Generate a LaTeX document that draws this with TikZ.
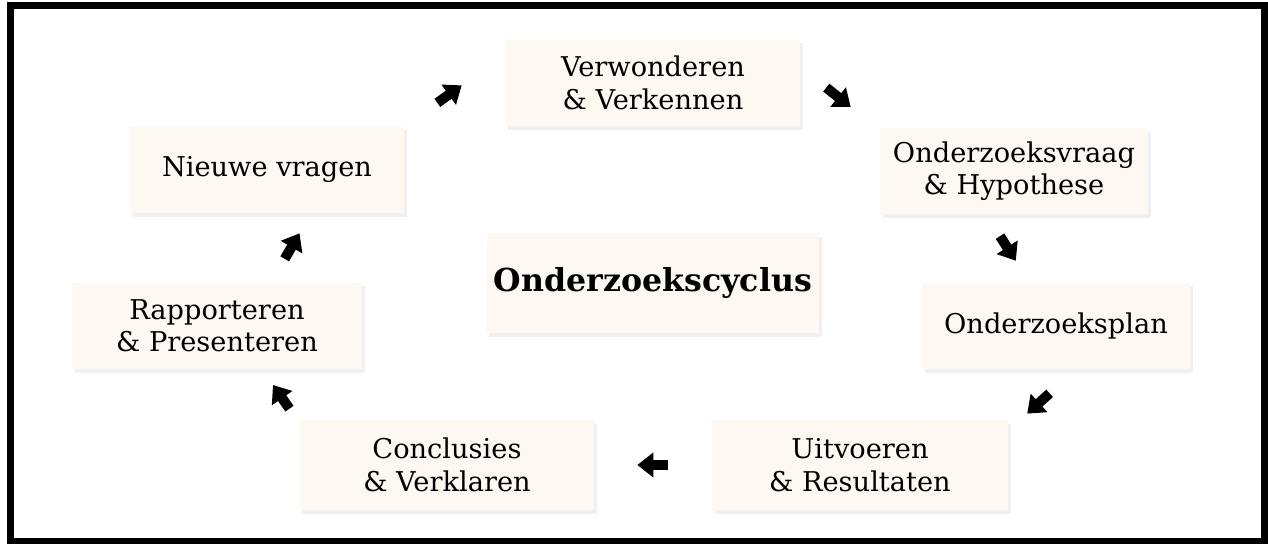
\documentclass[tikz,border=0pt]{standalone}
\usepackage{fontspec}
\setmainfont{DejaVu Serif}
\usetikzlibrary{arrows.meta,shadows}
\definecolor{boxfill}{RGB}{254,248,243}

\begin{document}
\begin{tikzpicture}[x=0.02cm, y=-0.02cm,
  stap/.style={fill=boxfill, align=center, inner sep=0pt,
    font=\fontsize{15.5}{18.5}\selectfont, minimum height=1.74cm,
    drop shadow={opacity=0.12, shadow xshift=1.5pt, shadow yshift=-2pt}},
  flow/.style={line width=0.2cm, -{Triangle[length=0.32cm, width=0.48cm]}}]
\useasboundingbox (0,0) rectangle (1268,544);
\draw[line width=0.14cm] (10.5,6) rectangle (1264.5,541);

% stappen van de cyclus
\node[stap, minimum width=5.9cm] (verw) at (653,83) {Verwonderen\\\& Verkennen};
\node[stap, minimum width=5.36cm, minimum height=1.72cm] (vraag) at (1014,171) {Onderzoeksvraag\\\& Hypothese};
\node[stap, minimum width=5.36cm] (plan) at (1056,326) {Onderzoeksplan};
\node[stap, minimum width=5.92cm, minimum height=1.8cm] (uitv) at (860,465) {Uitvoeren\\\& Resultaten};
\node[stap, minimum width=5.9cm, minimum height=1.8cm] (concl) at (447,465) {Conclusies\\\& Verklaren};
\node[stap, minimum width=5.8cm] (rapp) at (217,326) {Rapporteren\\\& Presenteren};
\node[stap, minimum width=5.5cm] (nieuw) at (267,170) {Nieuwe vragen};
\node[stap, minimum width=6.66cm, minimum height=2cm, font=\bfseries\fontsize{18}{22}\selectfont] (titel) at (653,283) {Onderzoekscyclus};

% pijlen
\foreach \van/\naar/\s/\e in {nieuw.north east/verw.169/0.8cm/1.07cm,
    verw.6/vraag.163/0.65cm/0.74cm, vraag.237/plan.121/0.52cm/0.51cm,
    plan.-66/uitv.13/0.7cm/0.51cm, uitv.west/concl.east/0.88cm/0.85cm,
    concl.164/rapp.-44/0.34cm/0.37cm, rapp.39/nieuw.-45/0.54cm/0.45cm}{
  \draw[flow, shorten <=\s, shorten >=\e] (\van) -- (\naar);
}
\end{tikzpicture}
\end{document}
